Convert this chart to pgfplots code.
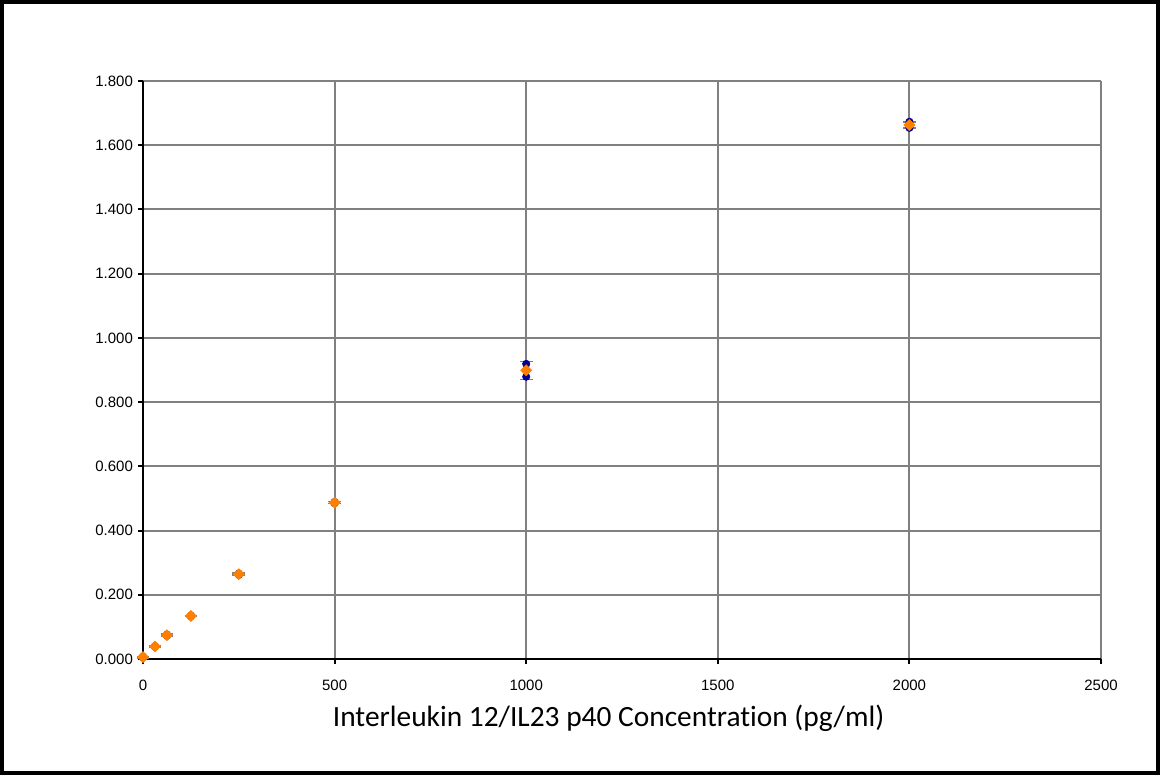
\documentclass[border=0pt]{standalone}
\usepackage{fontspec}
\setmainfont{Liberation Sans}
\newfontfamily\calibri[Ligatures={NoCommon}]{Carlito}
\usepackage{pgfplots}
\pgfplotsset{compat=1.18}

\definecolor{repblue}{RGB}{0,0,150}
\definecolor{meanorange}{RGB}{255,128,0}
\definecolor{gridgray}{RGB}{128,128,128}

\begin{document}
\begin{tikzpicture}
\useasboundingbox (0,0) rectangle (580pt,387.5pt);
\draw[black, line width=2pt] (1pt,1pt) rectangle (579pt,386.5pt);
\begin{axis}[
  at={(71.5pt,58pt)}, anchor=south west,
  scale only axis, width=479pt, height=289pt,
  xmin=0, xmax=2500, ymin=0, ymax=1.8,
  xtick={0,500,...,2500},
  ytick={0,0.2,...,1.8},
  grid=major,
  major grid style={gridgray, line width=1pt},
  axis lines=left,
  axis line style={-, black, line width=1pt},
  tick style={black, line width=1pt},
  major tick length=2.5pt,
  tick align=outside,
  /pgf/number format/assume math mode=true,
  /pgf/number format/1000 sep={},
  scaled ticks=false,
  yticklabel style={font=\fontsize{7.5}{9}\selectfont, /pgf/number format/fixed, /pgf/number format/fixed zerofill, /pgf/number format/precision=3, xshift=1pt},
  xticklabel style={font=\fontsize{7.5}{9}\selectfont, yshift=-4.5pt},
  xlabel={Interleukin 12/IL23 p40 Concentration (pg/ml)},
  xlabel style={font=\calibri\fontsize{14.7}{17}\selectfont, at={(axis description cs:0.486,0)}, anchor=center, yshift=-29.5pt},
  clip=false,
]
% replicate readings
\addplot[only marks, mark=*, mark size=1.8pt, mark options={fill=repblue, draw=repblue}]
  coordinates {
    (0,0.005) (0,0.007)
    (31.25,0.038) (31.25,0.040)
    (62.5,0.072) (62.5,0.076)
    (125,0.133) (125,0.135)
    (250,0.262) (250,0.266)
    (500,0.485) (500,0.489)
    (1000,0.919) (1000,0.879)
    (2000,1.673) (2000,1.654)
  };
% mean of replicates with standard deviation
\addplot[only marks, mark=square*, mark size=1.9pt,
  mark options={rotate=45, fill=meanorange, draw=meanorange},
  error bars/.cd, y dir=both, y explicit,
  error bar style={gridgray, line width=0.8pt},
  error mark options={gridgray, line width=0.8pt, mark size=3.2pt, rotate=90}]
  table[x=x, y=y, y error=e] {
    x      y      e
    0      0.006  0.002
    31.25  0.039  0.002
    62.5   0.074  0.003
    125    0.134  0.002
    250    0.264  0.003
    500    0.487  0.003
    1000   0.899  0.028
    2000   1.663  0.010
  };
\end{axis}
\end{tikzpicture}
\end{document}
